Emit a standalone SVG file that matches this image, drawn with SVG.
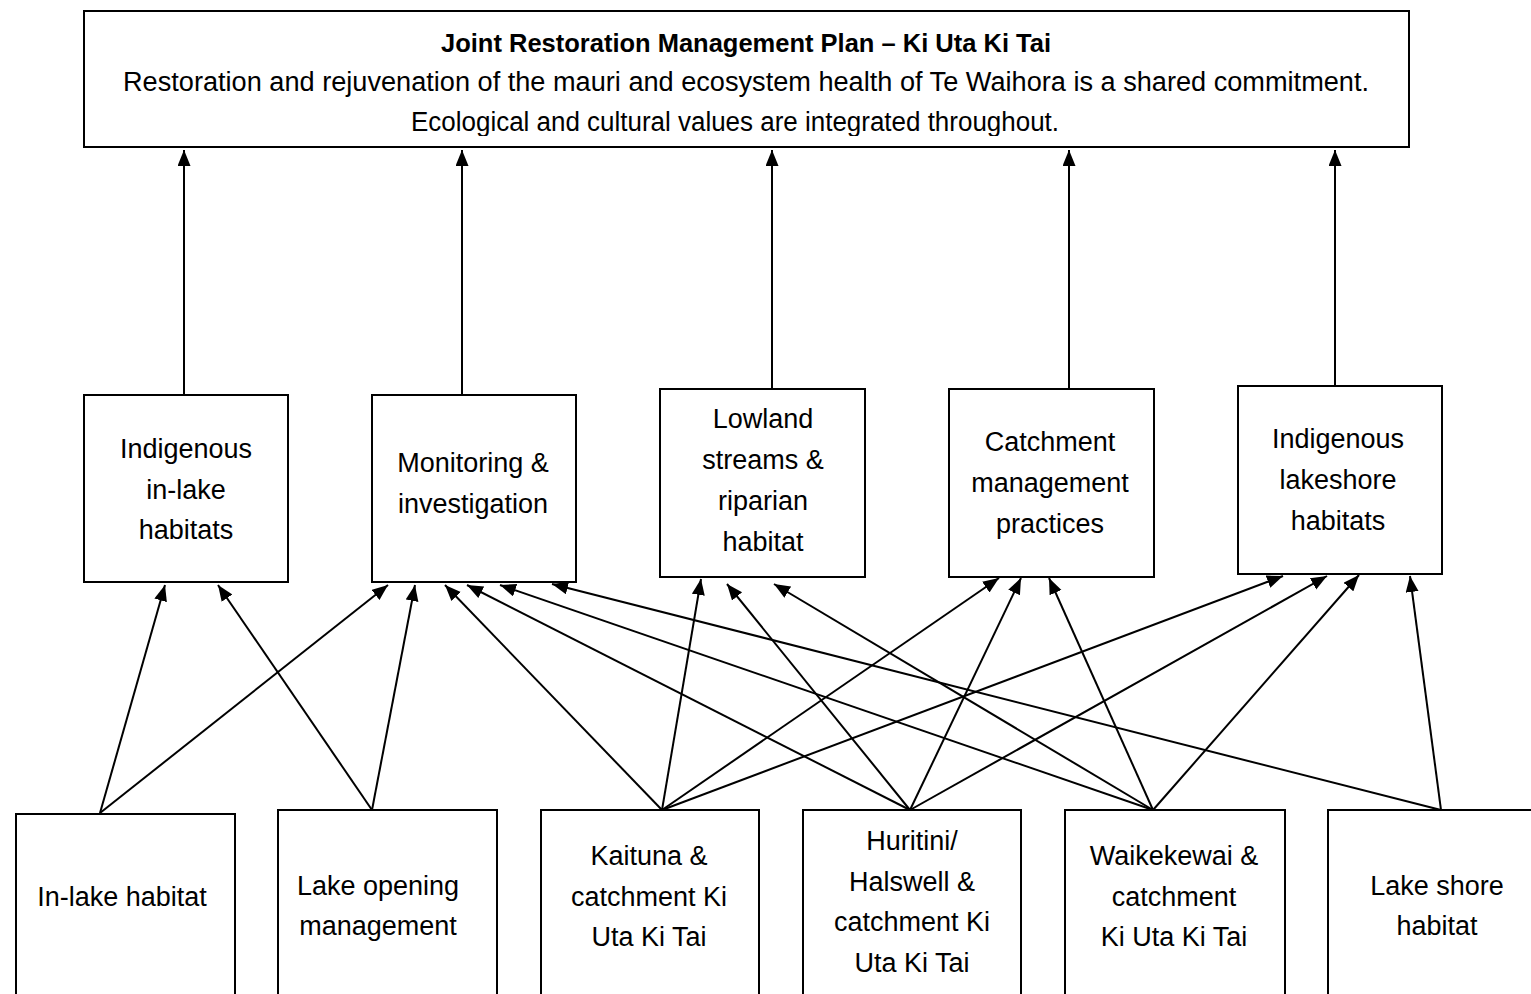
<svg xmlns="http://www.w3.org/2000/svg" width="1531" height="994" viewBox="0 0 1531 994">
<style>
.box{fill:#fff;stroke:#000;stroke-width:2}
text{font-family:"Liberation Sans",Arial,sans-serif;font-size:27px;fill:#000;text-anchor:middle}
.ttl{font-weight:bold;font-size:25px}
.c line{stroke:#000;stroke-width:2;marker-end:url(#ah)}
</style>
<defs>
<marker id="ah" markerUnits="userSpaceOnUse" markerWidth="17" markerHeight="14" refX="16" refY="6.5" orient="auto">
<path d="M0,0 L16,6.5 L0,13 z" fill="#000"/>
</marker>
<clipPath id="tc"><rect x="84" y="11" width="1325" height="125"/></clipPath>
</defs>
<rect width="1531" height="994" fill="#fff"/>
<g id="connectors" class="c">
<line x1="184" y1="395" x2="184" y2="150"/>
<line x1="462" y1="395" x2="462" y2="150"/>
<line x1="772" y1="389" x2="772" y2="150"/>
<line x1="1069" y1="389" x2="1069" y2="150"/>
<line x1="1335" y1="386" x2="1335" y2="150"/>
<line x1="100" y1="813" x2="165" y2="585"/>
<line x1="100" y1="813" x2="388" y2="585"/>
<line x1="372" y1="810" x2="218" y2="585"/>
<line x1="372" y1="810" x2="415" y2="585"/>
<line x1="662" y1="810" x2="445" y2="585"/>
<line x1="662" y1="810" x2="701" y2="579"/>
<line x1="662" y1="810" x2="999" y2="578"/>
<line x1="662" y1="810" x2="1283" y2="576"/>
<line x1="910" y1="810" x2="467" y2="585"/>
<line x1="910" y1="810" x2="727" y2="584"/>
<line x1="910" y1="810" x2="1021" y2="578"/>
<line x1="910" y1="810" x2="1327" y2="576"/>
<line x1="1153" y1="810" x2="500" y2="585"/>
<line x1="1153" y1="810" x2="774" y2="584"/>
<line x1="1153" y1="810" x2="1049" y2="578"/>
<line x1="1153" y1="810" x2="1359" y2="575"/>
<line x1="1441" y1="810" x2="552" y2="584"/>
<line x1="1441" y1="810" x2="1410" y2="576"/>
</g>
<g id="top">
<rect class="box" x="84" y="11" width="1325" height="136"/>
<g clip-path="url(#tc)">
<text class="ttl" x="746" y="52" textLength="610" lengthAdjust="spacingAndGlyphs">Joint Restoration Management Plan – Ki Uta Ki Tai</text>
<text x="746" y="91" textLength="1246" lengthAdjust="spacingAndGlyphs">Restoration and rejuvenation of the mauri and ecosystem health of Te Waihora is a shared commitment.</text>
<text x="735" y="131" textLength="648" lengthAdjust="spacingAndGlyphs">Ecological and cultural values are integrated throughout.</text>
</g>
</g>
<g id="m1"><rect class="box" x="84" y="395" width="204" height="187"/>
<text x="186" y="458">Indigenous</text><text x="186" y="499">in-lake</text><text x="186" y="539">habitats</text></g>
<g id="m2"><rect class="box" x="372" y="395" width="204" height="187"/>
<text x="473" y="472">Monitoring &amp;</text><text x="473" y="513">investigation</text></g>
<g id="m3"><rect class="box" x="660" y="389" width="205" height="188"/>
<text x="763" y="428">Lowland</text><text x="763" y="469">streams &amp;</text><text x="763" y="510">riparian</text><text x="763" y="551">habitat</text></g>
<g id="m4"><rect class="box" x="949" y="389" width="205" height="188"/>
<text x="1050" y="451">Catchment</text><text x="1050" y="492">management</text><text x="1050" y="533">practices</text></g>
<g id="m5"><rect class="box" x="1238" y="386" width="204" height="188"/>
<text x="1338" y="448">Indigenous</text><text x="1338" y="489">lakeshore</text><text x="1338" y="530">habitats</text></g>
<g id="b1"><rect class="box" x="16" y="814" width="219" height="200"/>
<text x="122" y="906">In-lake habitat</text></g>
<g id="b2"><rect class="box" x="278" y="810" width="219" height="200"/>
<text x="378" y="895">Lake opening</text><text x="378" y="935">management</text></g>
<g id="b3"><rect class="box" x="541" y="810" width="218" height="200"/>
<text x="649" y="865">Kaituna &amp;</text><text x="649" y="906">catchment Ki</text><text x="649" y="946">Uta Ki Tai</text></g>
<g id="b4"><rect class="box" x="803" y="810" width="218" height="200"/>
<text x="912" y="850">Huritini/</text><text x="912" y="891">Halswell &amp;</text><text x="912" y="931">catchment Ki</text><text x="912" y="972">Uta Ki Tai</text></g>
<g id="b5"><rect class="box" x="1065" y="810" width="220" height="200"/>
<text x="1174" y="865">Waikekewai &amp;</text><text x="1174" y="906">catchment</text><text x="1174" y="946">Ki Uta Ki Tai</text></g>
<g id="b6"><rect class="box" x="1328" y="810" width="220" height="200"/>
<text x="1437" y="895">Lake shore</text><text x="1437" y="935">habitat</text></g>
</svg>
